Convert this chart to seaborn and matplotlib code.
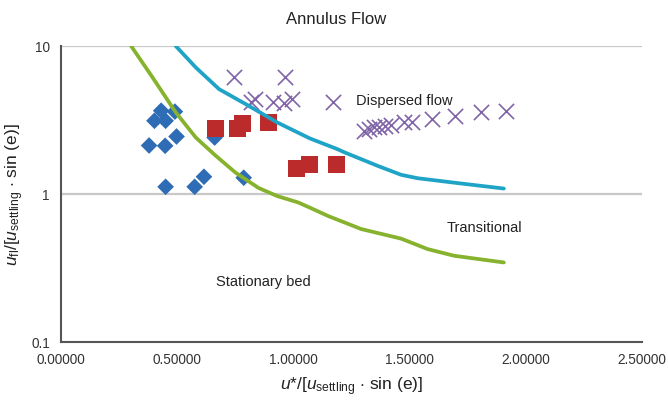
import matplotlib
matplotlib.use("Agg")
import matplotlib.pyplot as plt
import pandas as pd
import seaborn as sns

# stationary bed points
bed_x = [0.431, 0.402, 0.450, 0.490, 0.497, 0.379, 0.448, 0.661, 0.450, 0.575, 0.615, 0.786]
bed_y = [3.66, 3.13, 3.13, 3.61, 2.45, 2.13, 2.12, 2.41, 1.12, 1.12, 1.31, 1.29]

# transitional points
trans_x = [0.664, 0.758, 0.779, 0.893, 1.014, 1.070, 1.187]
trans_y = [2.77, 2.79, 3.02, 3.03, 1.49, 1.59, 1.59]

# dispersed flow points
disp_x = [0.745, 0.964, 0.818, 0.836, 0.910, 0.960, 0.995, 1.170,
          1.305, 1.326, 1.347, 1.368, 1.392, 1.418, 1.475, 1.510, 1.595, 1.694, 1.808, 1.915]
disp_y = [6.2, 6.2, 4.22, 4.38, 4.22, 4.10, 4.38, 4.22,
          2.68, 2.75, 2.82, 2.85, 2.89, 2.93, 3.05, 3.09, 3.24, 3.38, 3.56, 3.65]

# boundary lines
lower_x = [0.302, 0.394, 0.494, 0.58, 0.665, 0.75, 0.85, 0.93, 1.021, 1.078,
           1.15, 1.292, 1.463, 1.577, 1.691, 1.905]
lower_y = [10.0, 6.14, 3.56, 2.41, 1.82, 1.40, 1.10, 0.97, 0.877, 0.80,
           0.71, 0.58, 0.50, 0.425, 0.383, 0.345]
upper_x = [0.494, 0.58, 0.68, 0.794, 0.93, 1.07, 1.19, 1.221, 1.363, 1.463,
           1.534, 1.719, 1.905]
upper_y = [10.0, 7.17, 5.12, 4.06, 3.05, 2.38, 2.01, 1.91, 1.55, 1.35,
           1.28, 1.18, 1.09]

xticks = [0.0, 0.5, 1.0, 1.5, 2.0, 2.5]

sns.set_style("white")
plt.rcParams['font.family'] = ['Liberation Sans', 'DejaVu Sans']
plt.rcParams['mathtext.fontset'] = 'custom'
plt.rcParams['mathtext.rm'] = 'Liberation Sans'
plt.rcParams['mathtext.it'] = 'Liberation Sans:italic'

fig = plt.figure(figsize=(6.68, 4.01), dpi=100)
ax = fig.add_axes([0.0913, 0.147, 0.870, 0.738])

ax.axhline(1, color="#c8c8c8", lw=1.6, zorder=0)
ax.axhline(10, color="#c8c8c8", lw=1.6, zorder=0)

sns.lineplot(x=lower_x, y=lower_y, ax=ax, color="#86b22e", lw=2.7, sort=False, zorder=4)
sns.lineplot(x=upper_x, y=upper_y, ax=ax, color="#1fa3c6", lw=2.7, sort=False, zorder=4)

sns.scatterplot(x=bed_x, y=bed_y, ax=ax, marker="D", s=72, color="#2e6db5", edgecolor="none", zorder=3)
sns.scatterplot(x=trans_x, y=trans_y, ax=ax, marker="s", s=150, color="#bb2b2b", edgecolor="none", zorder=3)
sns.scatterplot(x=disp_x, y=disp_y, ax=ax, marker="x", s=120, color="#8064a8", linewidth=1.2, zorder=3)

ax.set_yscale("log")
ax.set_ylim(0.1, 10)
ax.set_xlim(0, 2.5)
ax.set_yticks([0.1, 1, 10])
ax.set_yticklabels(["0.1", "1", "10"])
ax.minorticks_off()
ax.set_xticks(xticks)
ax.set_xticklabels([f"{t:.5f}" for t in xticks])
ax.tick_params(axis="both", length=0, labelsize=9.8, colors="#333333", pad=8)

for s in ["top", "right"]:
    ax.spines[s].set_visible(False)
for s in ["left", "bottom"]:
    ax.spines[s].set_color("#555555")
    ax.spines[s].set_linewidth(1.5)

ax.text(1.27, 4.27, "Dispersed flow", fontsize=10.5, color="#222222", va="center")
ax.text(1.66, 0.59, "Transitional", fontsize=10.5, color="#222222", va="center")
ax.text(0.667, 0.255, "Stationary bed", fontsize=10.5, color="#222222", va="center")

ax.set_xlabel(r"$u$*/[$u_{\mathrm{settling}}$ $\cdot$ sin (e)]", fontsize=12.5, color="#222222", labelpad=6)
ax.set_ylabel(r"$u_{\mathrm{fl}}$/[$u_{\mathrm{settling}}$ $\cdot$ sin (e)]", fontsize=12.5, color="#222222", labelpad=4)
fig.text(0.503, 0.952, "Annulus Flow", ha="center", va="center", fontsize=12, color="#222222")

fig.savefig("out.png", dpi=100)
